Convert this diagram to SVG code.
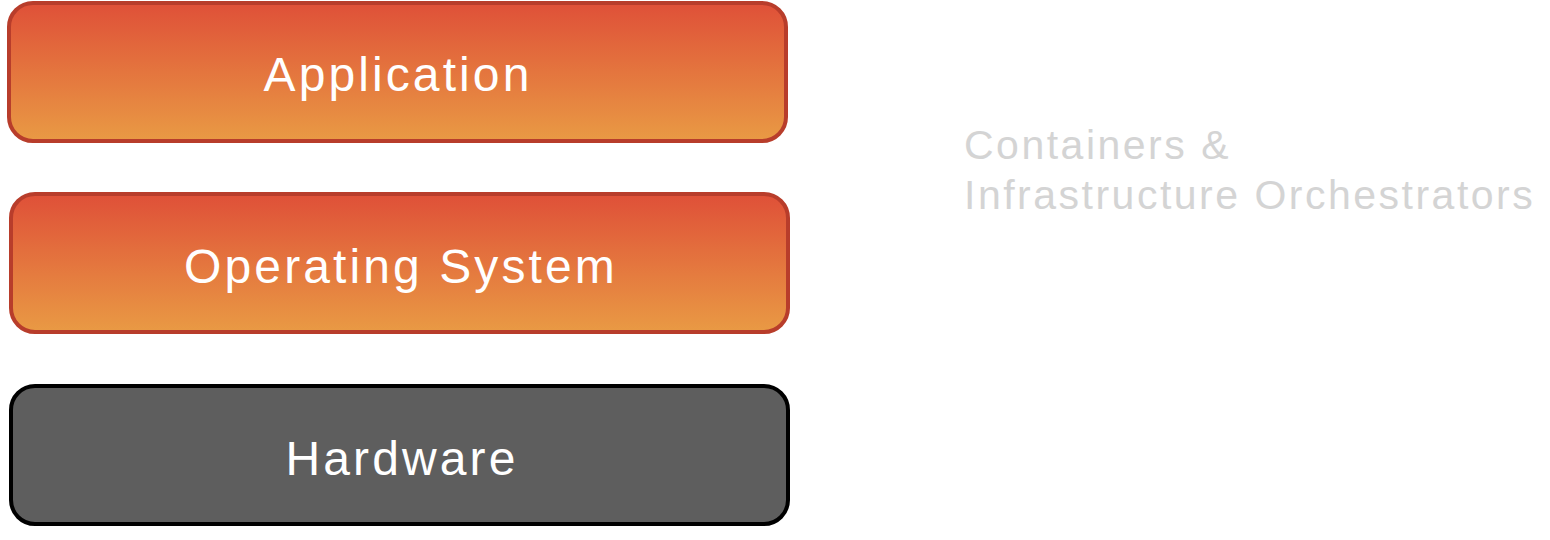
<svg xmlns="http://www.w3.org/2000/svg" width="1550" height="540" viewBox="0 0 1550 540">
<defs>
<linearGradient id="og" x1="0" y1="0" x2="0" y2="1">
<stop offset="0" stop-color="#df5038"/>
<stop offset="1" stop-color="#e99a44"/>
</linearGradient>
<style>
.orange{fill:url(#og);stroke:#b83d2b;stroke-width:4}
.hw{fill:#5e5e5e;stroke:#000;stroke-width:4}
.lbl{font-family:"Liberation Sans",Arial,sans-serif;font-size:48px;fill:#fff;text-anchor:middle;letter-spacing:3.1px}
.note{font-family:"Liberation Sans",Arial,sans-serif;font-size:41px;fill:#d4d4d4;letter-spacing:2.5px}
</style>
</defs>
<g id="application">
<rect class="orange" x="9" y="3" width="777" height="138" rx="24"/>
<text class="lbl" x="398" y="91">Application</text>
</g>
<g id="operating-system">
<rect class="orange" x="11" y="194" width="777" height="138" rx="24"/>
<text class="lbl" x="401" y="283">Operating System</text>
</g>
<g id="hardware">
<rect class="hw" x="11" y="386" width="777" height="138" rx="24"/>
<text class="lbl" x="402" y="475">Hardware</text>
</g>
<g id="connectors"/>
<g id="note">
<text class="note" x="964" y="159">Containers &amp;</text>
<text class="note" x="964" y="209">Infrastructure Orchestrators</text>
</g>
</svg>
